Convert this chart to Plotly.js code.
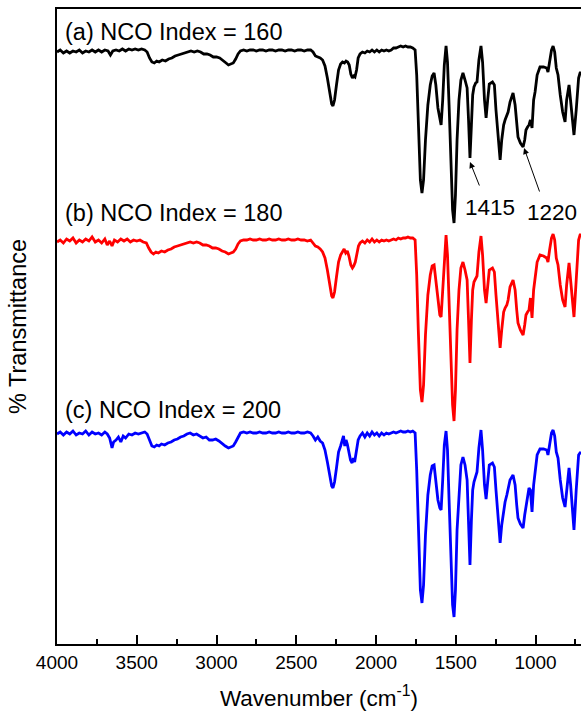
<!DOCTYPE html>
<html>
<head>
<meta charset="utf-8">
<script src="https://cdn.plot.ly/plotly-3.0.1.min.js"></script>
<style>html,body{margin:0;padding:0;background:#fff;overflow:hidden}#chart{width:581px;height:722px}</style>
</head>
<body>
<div id="chart"></div>
<script>
// Wavenumbers (cm^-1) and plotted transmittance (arbitrary units, spectra offset vertically)
const wnA = [4000,3980,3960,3940,3920,3900,3880,3860,3840,3820,3800,3780,3760,3740,3720,3700,3680,3665,3650,3630,3610,3590,3570,3550,3530,3510,3490,3470,3450,3435,3420,3405,3390,3375,3360,3340,3320,3300,3280,3260,3240,3220,3200,3180,3160,3140,3120,3100,3080,3060,3040,3020,3000,2980,2960,2940,2925,2910,2895,2880,2865,2850,2830,2810,2790,2770,2750,2730,2710,2690,2670,2650,2630,2610,2590,2570,2550,2530,2510,2490,2470,2450,2430,2410,2395,2380,2365,2350,2335,2320,2305,2290,2278,2270,2260,2248,2235,2222,2210,2198,2188,2178,2168,2158,2148,2140,2132,2122,2112,2100,2085,2070,2055,2040,2025,2010,1995,1980,1965,1950,1935,1920,1905,1890,1875,1860,1845,1830,1815,1800,1785,1770,
1755,1745,1735,1722,1712,1702,1690,1675,1660,1648,1636,1625,1612,1600,1592,1582,1572,1561,1552,1542,1530,1520,1511,1502,1492,1480,1468,1455,1442,1429,1420,1411,1402,1394,1386,1375,1367,1355,1342,1332,1320,1310,1300,1290,1270,1258,1248,1235,1222,1212,1200,1191,1180,1172,1160,1141,1128,1118,1110,1095,1078,1068,1060,1050,1041,1032,1022,1012,1003,990,972,950,930,922,912,900,890,880,870,859,845,830,815,805,790,780,770,759,745,730,721,715];
const tA = [592,594,591,593,591,593,592,594,591,593,592,594,592,594,592,594,593,589,593,594,593,595,593,595,594,595,594,595,594,592,586,582,581,583,582,584,583,585,586,588,589,590,591,592,593,592,593,592,590,590,589,587,587,586,583,581,579,580,581,585,590,593,594,593,594,594,593,594,594,593,594,594,593,594,594,593,594,594,593,594,594,593,594,594,592,588,587,586,584,578,566,549,540,538,544,559,574,580,582,581,583,582,579,570,566,568,567,574,586,590,592,591,593,592,594,592,594,592,594,593,594,593,594,596,596,597,598,597,598,597,597,596,
594,569,514,464,451,464,504,539,559,568,571,559,536,524,519,544,579,598,582,539,474,434,421,449,504,544,564,571,564,556,524,486,519,549,557,561,562,584,598,582,544,526,544,560,562,559,534,504,484,504,519,524,529,532,542,551,539,522,507,501,497,504,514,517,519,524,516,544,552,569,577,577,576,572,582,594,598,592,576,569,549,532,522,544,559,544,524,509,534,566,571,572];

const wnB = [4000,3980,3960,3940,3920,3900,3880,3860,3840,3820,3800,3780,3760,3740,3720,3700,3685,3670,3655,3640,3620,3600,3580,3560,3540,3520,3500,3480,3460,3440,3425,3410,3395,3380,3365,3345,3325,3305,3285,3265,3245,3225,3205,3185,3165,3145,3125,3105,3085,3065,3045,3025,3005,2985,2965,2945,2925,2910,2895,2880,2865,2850,2830,2810,2790,2770,2750,2730,2710,2690,2670,2650,2630,2610,2590,2570,2550,2530,2510,2490,2470,2450,2430,2410,2395,2380,2365,2350,2335,2320,2305,2290,2278,2270,2260,2248,2235,2222,2210,2200,2190,2180,2170,2158,2148,2140,2130,2120,2110,2100,2085,2070,2055,2040,2025,2010,1995,1980,1965,1950,1935,1920,1905,1890,1875,1860,1845,1830,1815,1800,1785,1770,
1755,1745,1735,1722,1712,1702,1690,1675,1660,1648,1636,1625,1612,1600,1592,1582,1572,1561,1552,1542,1530,1520,1511,1502,1492,1480,1468,1455,1442,1429,1420,1411,1402,1394,1386,1375,1367,1355,1342,1332,1320,1310,1300,1290,1270,1258,1248,1235,1222,1212,1200,1191,1180,1172,1160,1141,1128,1118,1110,1095,1078,1068,1060,1050,1041,1032,1022,1012,1003,990,972,950,930,922,912,900,890,880,870,859,845,830,815,805,790,780,770,759,745,730,721,715];
const tB = [402,404,401,405,403,406,401,404,402,405,403,407,402,404,401,405,399,403,398,404,402,405,403,405,402,404,403,404,402,401,396,392,390,392,391,393,392,394,395,397,398,399,400,401,402,401,402,401,399,399,398,396,396,395,393,392,390,391,392,395,400,403,404,404,405,404,404,405,404,404,405,404,404,405,404,404,405,404,404,405,404,404,403,404,401,398,397,395,392,386,374,357,348,346,352,367,382,389,392,395,391,393,388,379,376,378,382,392,398,401,403,401,404,402,405,402,404,402,404,403,404,403,404,405,404,406,405,406,406,407,406,406,
404,369,314,254,242,259,309,349,369,378,379,364,344,329,327,354,389,409,389,344,279,239,223,254,314,354,376,382,374,364,324,281,324,354,362,366,368,392,408,389,354,341,359,374,376,372,349,319,296,314,332,336,339,344,357,364,354,334,321,314,309,319,329,332,334,346,326,354,366,382,389,388,386,382,394,406,410,404,386,379,359,344,337,359,381,364,344,327,364,404,409,410];

const wnC = [4000,3980,3960,3940,3920,3900,3880,3860,3840,3820,3800,3780,3760,3740,3720,3700,3685,3670,3655,3645,3630,3615,3600,3585,3570,3550,3530,3510,3490,3470,3450,3435,3420,3405,3390,3375,3360,3345,3325,3305,3285,3265,3245,3225,3205,3185,3165,3145,3125,3105,3085,3065,3045,3025,3005,2985,2965,2945,2925,2910,2895,2880,2865,2850,2830,2810,2790,2770,2750,2730,2710,2690,2670,2650,2630,2610,2590,2570,2550,2530,2510,2490,2470,2450,2430,2410,2395,2380,2365,2350,2335,2320,2305,2290,2278,2270,2260,2248,2235,2222,2212,2204,2196,2188,2180,2170,2160,2150,2142,2134,2124,2112,2100,2085,2070,2055,2040,2025,2010,1995,1980,1965,1950,1935,1920,1905,1890,1875,1860,1845,1830,1815,1800,1785,1770,
1755,1745,1735,1722,1712,1702,1690,1675,1660,1648,1636,1625,1612,1600,1592,1582,1572,1561,1552,1542,1530,1520,1511,1502,1492,1480,1468,1455,1442,1429,1420,1411,1402,1394,1386,1375,1367,1355,1342,1332,1320,1310,1300,1290,1270,1258,1248,1235,1222,1212,1200,1191,1180,1172,1160,1141,1128,1118,1110,1095,1078,1068,1060,1050,1041,1032,1022,1012,1003,990,972,950,930,922,912,900,890,880,870,859,845,830,815,805,790,780,770,759,745,730,721,715];
const tC = [210,212,209,212,210,213,209,211,210,213,209,212,210,211,209,212,210,206,196,202,204,207,202,208,206,210,209,211,210,211,212,210,203,198,197,199,198,200,199,201,202,204,205,207,208,210,211,209,210,208,206,207,204,204,205,203,200,198,196,197,198,202,207,211,212,211,212,211,211,212,211,211,212,211,211,212,211,211,212,211,211,212,211,211,212,211,208,204,207,203,201,194,182,166,158,156,162,176,192,198,204,208,198,204,200,192,184,181,186,182,192,204,208,211,207,211,208,212,209,211,208,211,209,211,210,211,212,211,212,213,212,212,213,212,213,
211,174,114,54,41,59,109,149,169,178,179,164,144,136,134,164,199,213,194,144,74,39,27,54,114,154,179,187,179,164,124,79,124,154,162,169,172,196,214,194,159,145,164,179,181,177,154,124,101,119,136,142,149,154,164,169,159,139,126,120,116,129,136,144,156,154,132,159,172,189,195,195,194,189,199,211,214,208,192,186,164,146,137,154,176,159,134,114,154,189,191,192];

const seriesNames = ['(a) NCO Index = 160','(b) NCO Index = 180','(c) NCO Index = 200'];
const seriesColors = ['#000000','#ff0000','#0000ff'];
const labelY = [612, 431, 234];
const peakLabels = ['1415','1220'];
const peakTipX = [1411, 1072];
const peakTipY = [482, 496];
const peakTextX = [1285, 897];
const peakTextY = [437, 432];

const FONT = 'Liberation Sans, Arial, Helvetica, sans-serif';

const traces = [[wnA,tA],[wnB,tB],[wnC,tC]].map((d,i)=>({
  x:d[0], y:d[1], type:'scatter', mode:'lines',
  line:{color:seriesColors[i], width:2.8}, name:seriesNames[i], hoverinfo:'skip'
}));

const annotations = [];
seriesNames.forEach((s,i)=>annotations.push({
  x:3962, y:labelY[i], xref:'x', yref:'y', text:s, showarrow:false,
  xanchor:'left', yanchor:'middle', font:{family:FONT, size:23.5, color:'#000'}
}));
peakLabels.forEach((s,i)=>{
  annotations.push({x:peakTipX[i], y:peakTipY[i], xref:'x', yref:'y', text:'',
    showarrow:true, arrowhead:2, arrowsize:1.2, arrowwidth:1, arrowcolor:'#000',
    ax: i===0?10:16, ay: i===0?25:45, standoff:0, startstandoff:0});
  annotations.push({x:peakTextX[i], y:peakTextY[i], xref:'x', yref:'y', text:s,
    showarrow:false, xanchor:'center', yanchor:'middle', font:{family:FONT, size:22.5, color:'#000'}});
});

const layout = {
  width:581, height:722,
  margin:{l:57, r:0, t:9, b:78},
  paper_bgcolor:'#fff', plot_bgcolor:'#fff',
  showlegend:false,
  font:{family:FONT, color:'#000'},
  xaxis:{
    range:[4000,715], tick0:0, dtick:500, ticks:'inside', ticklen:9, tickwidth:2, tickcolor:'#000',
    minor:{dtick:250, ticks:'inside', ticklen:5, tickwidth:2, tickcolor:'#000'},
    showline:true, linewidth:2, linecolor:'#000', mirror:true,
    showgrid:false, zeroline:false,
    tickfont:{family:FONT, size:19, color:'#000'},
    title:{text:'Wavenumber (cm<sup>-1</sup>)', font:{family:FONT, size:22.5, color:'#000'}, standoff:18}
  },
  yaxis:{
    range:[0,635], showline:true, linewidth:2, linecolor:'#000', mirror:false,
    ticks:'', showticklabels:false, showgrid:false, zeroline:false,
    title:{text:'% Transmittance', font:{family:FONT, size:23.5, color:'#000'}, standoff:22}
  },
  annotations:annotations
};

Plotly.newPlot('chart', traces, layout, {staticPlot:true, displayModeBar:false});
</script>
</body>
</html>
